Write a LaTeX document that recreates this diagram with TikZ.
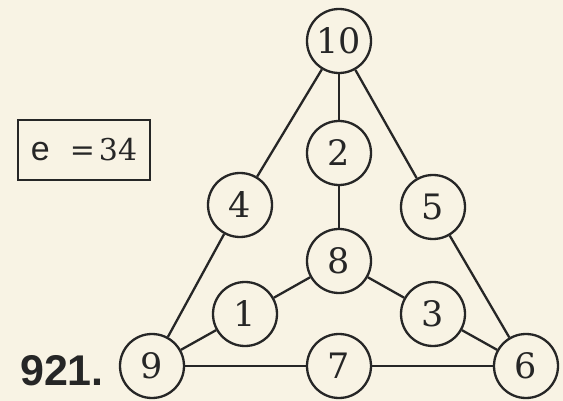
\documentclass[tikz,border=0pt]{standalone}
\usepackage{fontspec}
\newfontfamily\labelfont{Liberation Sans}
\newfontfamily\numfont{DejaVu Serif}
\definecolor{paper}{HTML}{F8F3E4}
\definecolor{ink}{HTML}{262626}
\begin{document}
\begin{tikzpicture}[x=1pt,y=-1pt,
  num/.style={circle,draw=ink,line width=2.3pt,minimum size=64pt,inner sep=0pt,
    text=ink,font=\numfont\fontsize{35}{35}\selectfont},
  edge/.style={draw=ink,line width=2.3pt}]
\fill[paper] (0,0) rectangle (563,401);
\useasboundingbox (0,0) rectangle (563,401);
\node[num] (n10) at (339,41) {10};
\node[num] (n2) at (339,153) {2};
\node[num] (n4) at (240,205) {4};
\node[num] (n5) at (433,207) {5};
\node[num] (n8) at (339,261) {8};
\node[num] (n1) at (245,314) {1};
\node[num] (n3) at (433,314) {3};
\node[num] (n9) at (152,366) {9};
\node[num] (n7) at (339,366) {7};
\node[num] (n6) at (526,366) {6};
\draw[edge] (n10) -- (n4) (n4) -- (n9);
\draw[edge] (n10) -- (n5) (n5) -- (n6);
\draw[edge] (n10) -- (n2) (n2) -- (n8);
\draw[edge] (n8) -- (n1) (n1) -- (n9);
\draw[edge] (n8) -- (n3) (n3) -- (n6);
\draw[edge] (n9) -- (n7) (n7) -- (n6);
\node[draw=ink,line width=2.6pt,minimum width=132pt,minimum height=60pt,inner sep=0pt,text=ink]
  (box) at (84,150) {{\labelfont\fontsize{34}{34}\selectfont e}\hspace{20pt}{\numfont\fontsize{30}{30}\selectfont =\hspace{4pt}34}};
\node[anchor=base east,inner sep=0pt,text=ink,font=\labelfont\bfseries\fontsize{43}{43}\selectfont]
  (lbl) at (104,385) {921.};
\end{tikzpicture}
\end{document}
